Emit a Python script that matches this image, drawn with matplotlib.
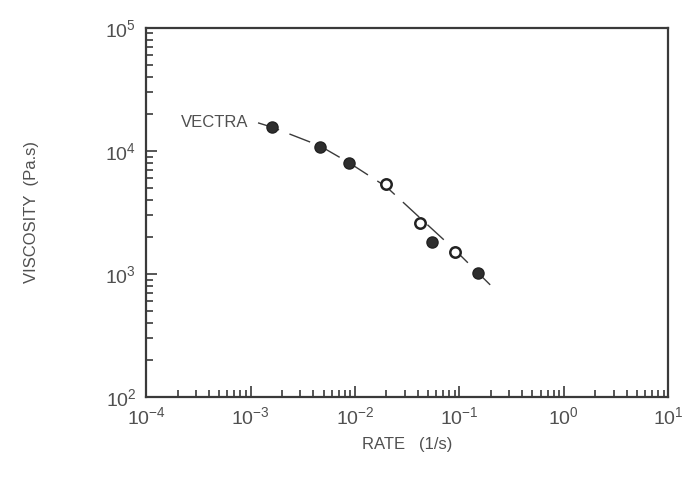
import matplotlib.pyplot as plt
from matplotlib.ticker import LogLocator, FuncFormatter
import numpy as np

plt.rcParams["font.family"] = ["Liberation Sans", "DejaVu Sans"]
plt.rcParams["mathtext.default"] = "regular"

filled_rate = [1.6e-3, 4.6e-3, 8.8e-3, 0.055, 0.149]
filled_visc = [15500, 10800, 7940, 1830, 1010]
open_rate = [0.0199, 0.042, 0.091]
open_visc = [5360, 2600, 1520]

# Dashed guide curve through the data.
curve_rate = [1.18e-3, 1.6e-3, 4.6e-3, 8.8e-3, 0.02, 0.042, 0.091, 0.197]
curve_visc = [16900, 15600, 11000, 8000, 5100, 2850, 1560, 815]

INK = "#3a3a3a"
TEXT = "#505050"

fig = plt.figure(figsize=(6.89, 4.8), dpi=100)
ax = fig.add_axes([0.212, 0.173, 0.758, 0.769])

ax.plot(curve_rate, curve_visc, color=INK, linewidth=1.0,
        dashes=(16, 8))
ax.plot(filled_rate, filled_visc, "o", color="#2e2e2e", markersize=8,
        markeredgecolor="#222222")
ax.plot(open_rate, open_visc, "o", markerfacecolor="white", markersize=7.5,
        markeredgecolor="#222222", markeredgewidth=1.8)

ax.set_xscale("log")
ax.set_yscale("log")
ax.set_xlim(1e-4, 1e1)
ax.set_ylim(1e2, 1e5)


def pow_label(val, pos):
    exp = int(round(np.log10(val)))
    return f"10$^{{{exp}}}$"


ax.xaxis.set_major_locator(LogLocator(base=10, numticks=10))
ax.yaxis.set_major_locator(LogLocator(base=10, numticks=10))
ax.xaxis.set_minor_locator(LogLocator(base=10, subs=np.arange(2, 10), numticks=20))
ax.yaxis.set_minor_locator(LogLocator(base=10, subs=np.arange(2, 10), numticks=20))
ax.xaxis.set_major_formatter(FuncFormatter(pow_label))
ax.yaxis.set_major_formatter(FuncFormatter(pow_label))

ax.tick_params(which="both", direction="in", top=False, right=False,
               colors=INK, labelcolor=TEXT, labelsize=14, width=1.2)
ax.tick_params(which="major", length=8, pad=7)
ax.tick_params(which="minor", length=5)

for spine in ax.spines.values():
    spine.set_linewidth(1.6)
    spine.set_color(INK)

ax.text(9.5e-4, 16900, "VECTRA", ha="right", va="center", fontsize=12,
        color=TEXT)

ax.set_xlabel("RATE   (1/s)", fontsize=12, color=TEXT, labelpad=6)
ax.set_ylabel("VISCOSITY  (Pa.s)", fontsize=12, color=TEXT, labelpad=48)

fig.savefig("out.png", dpi=100)
plt.close(fig)
